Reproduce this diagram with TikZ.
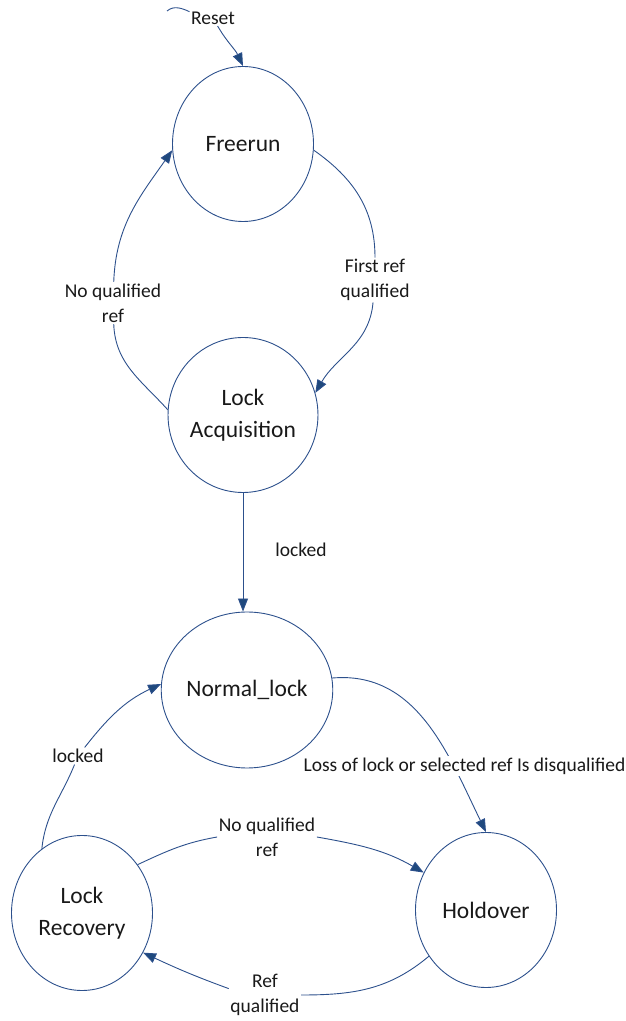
\documentclass[tikz,border=0pt]{standalone}
\usepackage{fontspec}
\setmainfont{Carlito}
\usetikzlibrary{shapes.geometric,arrows.meta}
\definecolor{edgeblue}{RGB}{44,80,140}
\definecolor{tipblue}{RGB}{31,73,125}
\begin{document}
\begin{tikzpicture}[x=1pt,y=1pt,
  state/.style={ellipse,draw=edgeblue,line width=0.9pt,inner sep=0pt,minimum width=141pt,minimum height=155pt,align=center,font=\fontsize{23.5}{32}\selectfont,text=black!90},
  elabel/.style={inner sep=1.5pt,align=center,font=\fontsize{19.5}{25}\selectfont,text=black!90},
  conn/.style={draw=edgeblue,line width=0.9pt},
  arr/.style={conn,-{Triangle[length=13pt,width=10pt,fill=tipblue]}}]
\useasboundingbox (0,0) rectangle (626,1021);
% states
\node[state] (freerun) at (243,877) {Freerun};
\node[state] (lockacq) at (243,606) {Lock\\Acquisition};
\node[state,minimum height=156pt] (normal) at (247,331) {Normal\_lock};
\node[state] (recovery) at (82,108) {Lock\\Recovery};
\node[state] (holdover) at (486,111) {Holdover};
% labels on split connectors
\coordinate (resetstart) at (167,1010);
\node[elabel] (resetlbl) at (213,1003) {Reset};
\node[elabel] (firstref) at (375,741) {First ref\\qualified};
\node[elabel] (noqual1) at (113,718) {No qualified\\ref};
\node[elabel] (locked1) at (301,471) {locked};
\node[elabel] (locked2) at (78,265) {locked};
\node[elabel] (noqual2) at (267,184) {No qualified\\ref};
\node[elabel] (refq) at (265,26) {Ref\\qualified};
% connectors
\draw[conn] (resetstart) to[out=40,in=155] (resetlbl.165);
\draw[arr] (resetlbl) to[out=-60,in=115] (freerun.north);
\draw[conn] (freerun.-5) to[out=-35,in=90] (firstref);
\draw[arr] (firstref) to[out=-95,in=60] (lockacq.17);
\draw[conn] (lockacq.176) to[out=132,in=-88] (noqual1);
\draw[arr] (noqual1) to[out=88,in=235] (freerun.185);
\draw[arr] (lockacq.south) -- (normal.north -| lockacq.south);
\draw[arr] (normal.8) to[out=5,in=116] (holdover.north);
\node[elabel,fill=white] (loss) at (464.5,255) {Loss of lock or selected ref Is disqualified};
\draw[conn] (recovery.122) to[out=84,in=-112] (locked2);
\draw[arr] (locked2) to[out=52,in=205] (normal.176);
\draw[conn] (recovery.41) to[out=25,in=190] (noqual2.west);
\draw[arr] (noqual2.east) to[out=-10,in=150] (holdover.149);
\draw[conn] (holdover.219) to[out=-140,in=0] (refq.east);
\draw[arr] (refq.170) to[out=160,in=-25] (recovery.-33);
\end{tikzpicture}
\end{document}
